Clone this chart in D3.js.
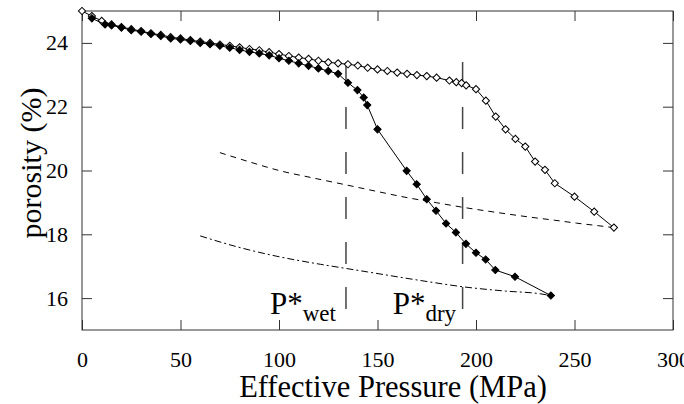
<!DOCTYPE html>
<html>
<head>
<meta charset="utf-8">
<script src="https://cdn.jsdelivr.net/npm/d3@7"></script>
</head>
<body style="margin:0">
<div id="chart"></div>
<script>
// dry sample (open diamonds)
const dryP = [0, 5, 10, 15, 20, 25, 30, 35, 40, 45, 50, 55, 60, 65, 70, 75, 80, 85, 90, 95,
    100, 105, 110, 115, 120, 125, 130, 135, 140, 145, 150, 155, 160, 165, 170, 175, 180,
    186.5, 190, 192.7, 195, 200, 205, 210, 215, 220, 225, 230, 235, 240, 250, 260, 270];
const dryPhi = [25.0, 24.84, 24.69, 24.58, 24.50, 24.43, 24.37, 24.30, 24.25, 24.18, 24.14, 24.09,
    24.04, 24.00, 23.95, 23.91, 23.86, 23.81, 23.77, 23.71, 23.65, 23.59, 23.54, 23.50, 23.44,
    23.39, 23.36, 23.33, 23.29, 23.22, 23.17, 23.12, 23.07, 23.03, 22.99, 22.96, 22.91, 22.82,
    22.77, 22.74, 22.67, 22.55, 22.19, 21.69, 21.29, 20.99, 20.75, 20.28, 20.02, 19.60, 19.18,
    18.71, 18.21];

// wet sample (filled diamonds)
const wetP = [5, 11.7, 15, 20, 25, 30, 35, 40, 45, 50, 55, 60, 65, 70, 75, 80, 85, 90, 95,
    100, 105, 110, 115, 120, 125, 130, 135, 139.8, 143, 144.8, 150, 164.8, 169.9, 175, 179.7,
    184.8, 189.8, 194.9, 200, 204.9, 209.8, 219.8, 238];
const wetPhi = [24.77, 24.58, 24.55, 24.48, 24.40, 24.35, 24.28, 24.22, 24.14, 24.11, 24.06, 24.00,
    23.96, 23.91, 23.85, 23.78, 23.72, 23.67, 23.61, 23.52, 23.44, 23.36, 23.28, 23.20, 23.12,
    23.03, 22.75, 22.52, 22.29, 22.05, 21.29, 19.99, 19.57, 19.10, 18.74, 18.34, 18.06, 17.70,
    17.42, 17.21, 16.88, 16.67, 16.08];

// model curves
const dryModelP = [70, 85, 100, 117, 134, 150, 165, 180, 193, 210, 226, 240, 251, 262, 270];
const dryModelPhi = [20.56, 20.27, 20.00, 19.77, 19.55, 19.34, 19.15, 18.99, 18.85, 18.69, 18.55,
    18.44, 18.35, 18.27, 18.21];
const wetModelP = [60, 78, 99, 121, 134, 145, 172, 194, 215, 232, 238];
const wetModelPhi = [17.95, 17.62, 17.31, 17.06, 16.93, 16.82, 16.55, 16.35, 16.22, 16.14, 16.08];

// critical pressures
const critP = [134, 193.2];
const critTop = 23.4, critBottom = 15.63;
const critLabels = [{ main: "P*", sub: "wet", x: 95.4 }, { main: "P*", sub: "dry", x: 157.7 }];

const xTicks = [0, 50, 100, 150, 200, 250, 300];
const yTicks = [16, 18, 20, 22, 24];

const margin = { top: 11, right: 11, bottom: 74, left: 82 };
const width = 684 - margin.left - margin.right;
const height = 404 - margin.top - margin.bottom;

const svg = d3.select("#chart").append("svg")
    .attr("width", 684).attr("height", 404);
const g = svg.append("g").attr("transform", `translate(${margin.left},${margin.top})`);

const x = d3.scaleLinear().domain([0, 300]).range([0, width]);
const y = d3.scaleLinear().domain([15, 25]).range([height, 0]);

function styleAxis(a) {
    a.select(".domain").remove();
    a.selectAll(".tick line").attr("stroke", "#333");
    a.selectAll("text")
        .attr("font-family", "Liberation Serif")
        .attr("font-size", 22)
        .attr("fill", "#000");
}

// axes with inward ticks
g.append("g").attr("transform", `translate(0,${height})`)
    .call(d3.axisBottom(x).tickValues(xTicks).tickSizeInner(-10).tickSizeOuter(0).tickPadding(21))
    .call(styleAxis);
g.append("g")
    .call(d3.axisTop(x).tickValues(xTicks).tickSizeInner(-10).tickSizeOuter(0).tickFormat(""))
    .call(styleAxis);
g.append("g")
    .call(d3.axisLeft(y).tickValues(yTicks).tickSizeInner(-10).tickSizeOuter(0).tickPadding(14))
    .call(styleAxis);
g.append("g").attr("transform", `translate(${width},0)`)
    .call(d3.axisRight(y).tickValues(yTicks).tickSizeInner(-10).tickSizeOuter(0).tickFormat(""))
    .call(styleAxis);

g.append("rect").attr("width", width).attr("height", height)
    .attr("fill", "none").attr("stroke", "#333").attr("stroke-width", 1);

// axis titles
svg.append("text").attr("x", 393).attr("y", 397).attr("text-anchor", "middle")
    .attr("font-family", "Liberation Serif").attr("font-size", 30.5)
    .text("Effective Pressure (MPa)");
svg.append("text").attr("transform", "translate(41,163) rotate(-90)").attr("text-anchor", "middle")
    .attr("font-family", "Liberation Serif").attr("font-size", 30)
    .text("porosity (%)");

// critical pressure lines
g.selectAll(".crit").data(critP).enter().append("line")
    .attr("x1", d => x(d)).attr("x2", d => x(d))
    .attr("y1", y(critTop)).attr("y2", y(critBottom))
    .attr("stroke", "#444").attr("stroke-width", 1.5)
    .attr("stroke-dasharray", "22,23");

const lbl = g.selectAll(".crit-label").data(critLabels).enter().append("text")
    .attr("x", d => x(d.x)).attr("y", 303)
    .attr("font-family", "Liberation Serif").attr("font-size", 31);
lbl.append("tspan").text(d => d.main);
lbl.append("tspan").attr("dy", 7).attr("font-size", 23).text(d => d.sub);

// model curves
const modelLine = d3.line().x(d => x(d[0])).y(d => y(d[1])).curve(d3.curveMonotoneX);
g.append("path").datum(d3.zip(dryModelP, dryModelPhi))
    .attr("fill", "none").attr("stroke", "#000").attr("stroke-width", 1)
    .attr("stroke-dasharray", "6,5").attr("d", modelLine);
g.append("path").datum(d3.zip(wetModelP, wetModelPhi))
    .attr("fill", "none").attr("stroke", "#000").attr("stroke-width", 1)
    .attr("stroke-dasharray", "7,3,2,3").attr("d", modelLine);

// measured curves
const dataLine = d3.line().x(d => x(d[0])).y(d => y(d[1]));
const diamond = d3.symbol().type(d3.symbolSquare).size(26);

function drawSeries(pArr, phiArr, fill) {
    const pts = d3.zip(pArr, phiArr);
    g.append("path").datum(pts)
        .attr("fill", "none").attr("stroke", "#000").attr("stroke-width", 1)
        .attr("d", dataLine);
    g.selectAll(null).data(pts).enter().append("path")
        .attr("d", diamond)
        .attr("transform", d => `translate(${x(d[0])},${y(d[1])}) rotate(45)`)
        .attr("fill", fill).attr("stroke", "#000").attr("stroke-width", 1);
}

drawSeries(dryP, dryPhi, "#fff");
drawSeries(wetP, wetPhi, "#000");
</script>
</body>
</html>
